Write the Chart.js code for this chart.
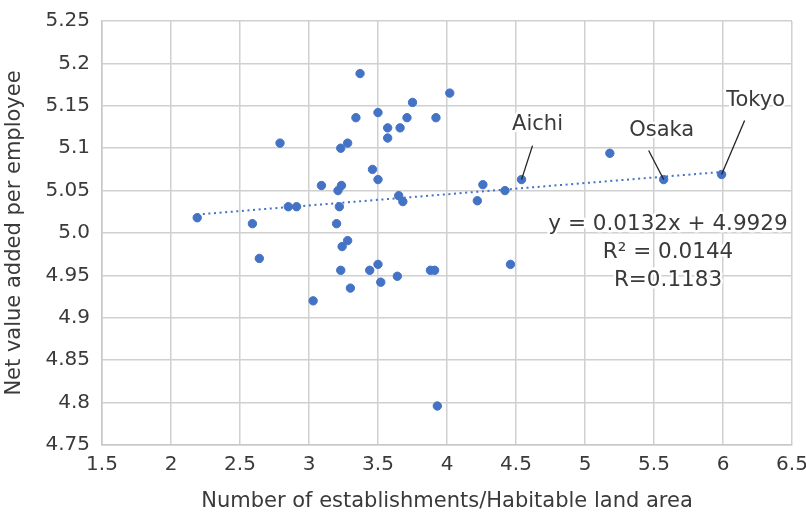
<!DOCTYPE html>
<html>
<head>
<meta charset="utf-8">
<script src="https://cdn.jsdelivr.net/npm/chart.js@4.4.1/dist/chart.umd.min.js"></script>
<style>
    body { margin: 0; background: #fff; }
    #wrap { width: 806px; height: 515px; }
</style>
</head>
<body>
<div id="wrap"><canvas id="scatterChart" width="806" height="515"></canvas></div>
<script>
// Establishments per habitable land area vs net value added per employee (47 prefectures)
const xValues = [
    2.19, 2.59, 2.64, 2.79, 2.85, 2.91, 3.03, 3.09, 3.20, 3.21,
    3.235, 3.22, 3.23, 3.28, 3.24, 3.28, 3.34, 3.37, 3.46, 3.50,
    3.50, 3.57, 3.57, 4.02, 3.75, 3.71, 3.92, 3.66, 3.65, 3.68,
    3.23, 3.44, 3.50, 3.64, 3.30, 3.52, 3.88, 3.91, 3.93, 4.26,
    4.22, 4.42, 4.54, 5.18, 5.57, 5.99, 4.46
];
const yValues = [
    5.018, 5.011, 4.970, 5.106, 5.031, 5.031, 4.920, 5.056, 5.011, 5.050,
    5.056, 5.031, 5.100, 5.106, 4.984, 4.991, 5.136, 5.188, 5.075, 5.142,
    5.063, 5.112, 5.124, 5.165, 5.154, 5.136, 5.136, 5.124, 5.044, 5.037,
    4.956, 4.956, 4.963, 4.949, 4.935, 4.942, 4.956, 4.956, 4.796, 5.057,
    5.038, 5.050, 5.063, 5.094, 5.063, 5.069, 4.963
];

// named points (index into the arrays above)
const labelNames = ['Aichi', 'Osaka', 'Tokyo'];
const labelIndex = [42, 44, 45];

// tick labels as shown in the original
const xTickLabels = ['1.5', '2', '2.5', '3', '3.5', '4', '4.5', '5', '5.5', '6', '6.5'];
const yTickLabels = ['4.75', '4.8', '4.85', '4.9', '4.95', '5.0', '5.05', '5.1', '5.15', '5.2', '5.25'];

// linear trend shown on the chart
const trendSlope = 0.0132;
const trendIntercept = 4.9929;
const trendText = ['y = 0.0132x + 4.9929', 'R\u00b2 = 0.0144', 'R=0.1183'];

const FONT = "'DejaVu Sans', sans-serif";
const TEXT_COLOR = '#3a3a3a';
const BLUE = '#4472C4';

const points = xValues.map((x, i) => ({ x: x, y: yValues[i] }));
const minX = Math.min(...xValues);
const maxX = Math.max(...xValues);
const trendPoints = [
    { x: minX, y: trendSlope * minX + trendIntercept },
    { x: maxX, y: trendSlope * maxX + trendIntercept }
];

// text with a white halo so grid lines break behind it
function haloText(ctx, text, x, y) {
    ctx.lineWidth = 5;
    ctx.strokeStyle = '#fff';
    ctx.lineJoin = 'round';
    ctx.strokeText(text, x, y);
    ctx.fillStyle = TEXT_COLOR;
    ctx.fillText(text, x, y);
}

// leader lines + names, and the trend equation box
const annotations = {
    id: 'annotations',
    afterDatasetsDraw(chart) {
        const ctx = chart.ctx;
        const meta = chart.getDatasetMeta(0);
        // offsets of leader line end and label centre from the point
        const offsets = [
            { lx: 11, ly: -34, tx: 16, ty: -55 },
            { lx: -15, ly: -29, tx: -2, ty: -49 },
            { lx: 23, ly: -54, tx: 34, ty: -74 }
        ];
        ctx.save();
        ctx.font = '21px ' + FONT;
        ctx.textAlign = 'center';
        ctx.textBaseline = 'middle';
        labelIndex.forEach((idx, i) => {
            const p = meta.data[idx];
            const o = offsets[i];
            ctx.beginPath();
            ctx.moveTo(p.x + o.lx, p.y + o.ly);
            ctx.lineTo(p.x, p.y);
            ctx.strokeStyle = '#222';
            ctx.lineWidth = 1.3;
            ctx.stroke();
            haloText(ctx, labelNames[i], p.x + o.tx, p.y + o.ty);
        });

        const area = chart.chartArea;
        ctx.font = '21.5px ' + FONT;
        trendText.forEach((line, i) => {
            haloText(ctx, line, area.right - 124, area.top + 203 + i * 28);
        });
        ctx.restore();
    }
};

const ctx = document.getElementById('scatterChart').getContext('2d');
new Chart(ctx, {
    type: 'scatter',
    data: {
        datasets: [
            {
                label: 'Prefectures',
                data: points,
                backgroundColor: BLUE,
                borderColor: BLUE,
                pointRadius: 4.2,
                pointHoverRadius: 4.2,
                order: 1
            },
            {
                label: 'Trend',
                data: trendPoints,
                showLine: true,
                borderColor: BLUE,
                borderWidth: 2,
                borderDash: [2, 3.6],
                pointRadius: 0,
                fill: false,
                order: 2
            }
        ]
    },
    options: {
        responsive: false,
        animation: false,
        layout: {
            padding: { top: 21, right: 14, left: 0, bottom: 0 }
        },
        plugins: {
            legend: { display: false },
            tooltip: { enabled: false }
        },
        scales: {
            x: {
                type: 'linear',
                min: 1.5,
                max: 6.5,
                ticks: {
                    stepSize: 0.5,
                    padding: 8,
                    color: TEXT_COLOR,
                    font: { family: FONT, size: 20 },
                    maxRotation: 0,
                    callback: (value, index) => xTickLabels[index]
                },
                grid: { color: '#d0d0d0', lineWidth: 1.5, drawTicks: false },
                border: { color: '#c8c8c8', width: 1.5 },
                title: {
                    display: true,
                    text: 'Number of establishments/Habitable land area',
                    color: TEXT_COLOR,
                    font: { family: FONT, size: 21 },
                    padding: { top: 0, bottom: 1 }
                },
                afterFit: (scale) => {
                    scale.height = 70;
                    scale.paddingLeft = 0;
                    scale.paddingRight = 0;
                }
            },
            y: {
                type: 'linear',
                min: 4.75,
                max: 5.25,
                ticks: {
                    stepSize: 0.05,
                    padding: 12,
                    color: TEXT_COLOR,
                    font: { family: FONT, size: 20 },
                    callback: (value, index) => yTickLabels[index]
                },
                grid: { color: '#d0d0d0', lineWidth: 1.5, drawTicks: false },
                border: { color: '#c8c8c8', width: 1.5 },
                title: {
                    display: true,
                    text: 'Net value added per employee',
                    color: TEXT_COLOR,
                    font: { family: FONT, size: 21 },
                    padding: { top: 2, bottom: 0 }
                },
                afterFit: (scale) => {
                    scale.width = 102;
                    scale.paddingTop = 0;
                    scale.paddingBottom = 0;
                }
            }
        }
    },
    plugins: [annotations]
});
</script>
</body>
</html>
